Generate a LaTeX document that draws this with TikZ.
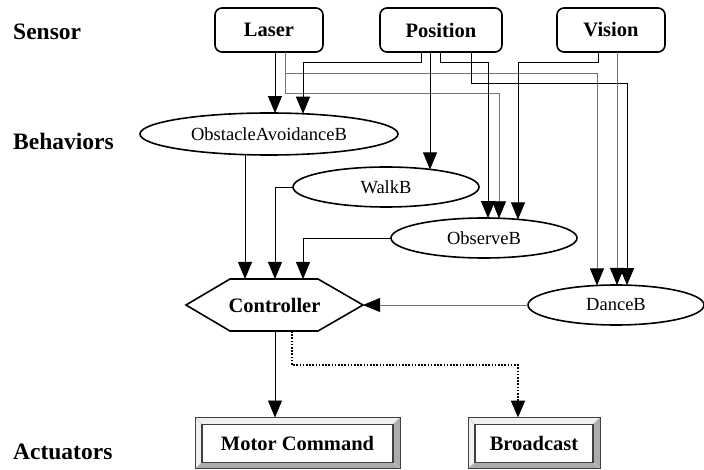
\documentclass[tikz,border=0pt]{standalone}
\usepackage{fontspec}
\setmainfont{Liberation Serif}
\usetikzlibrary{arrows.meta,shapes.geometric,calc}
\newcommand{\ppb}{path picture bounding box}
\tikzset{
  sensorbox/.style={draw, line width=1.6pt, rounded corners=7pt, minimum height=44pt, inner sep=0pt, outer sep=0pt, font=\fontsize{20.5}{22}\selectfont\bfseries},
  behav/.style={draw, ellipse, line width=1.6pt, inner sep=0pt, outer sep=0pt, minimum height=40pt, font=\fontsize{18.5}{20}\selectfont},
  sidelabel/.style={anchor=west, inner sep=0pt, font=\fontsize{23.5}{25}\selectfont\bfseries},
  ctrlnode/.style={minimum width=177pt, minimum height=52pt, inner sep=0pt, outer sep=0pt, font=\fontsize{20.5}{22}\selectfont\bfseries},
  wire/.style={line width=0.85pt, black},
  wireg/.style={line width=0.85pt, black!55},
  arr/.style={-{Triangle[length=17pt,width=14pt,color=black,fill=black]}},
  dotwire/.style={line width=2.2pt, dash pattern=on 1.6pt off 1.6pt, black},
  actbox/.style={draw=black!75, line width=0.8pt, minimum height=51pt, inner sep=0pt, outer sep=0pt,
    font=\fontsize{20.5}{22}\selectfont\bfseries,
    path picture={
      \fill[gray!12] (\ppb.north west) rectangle (\ppb.south east);
      \fill[gray!65] (\ppb.north east) -- (\ppb.south east) -- (\ppb.south west)
        -- ([shift={(7,-6)}]\ppb.south west) -- ([shift={(-7,-6)}]\ppb.south east)
        -- ([shift={(-7,7)}]\ppb.north east) -- cycle;
      \draw[gray!45, line width=0.5pt] (\ppb.north west) -- ([shift={(7,7)}]\ppb.north west)
        (\ppb.north east) -- ([shift={(-7,7)}]\ppb.north east)
        (\ppb.south west) -- ([shift={(7,-6)}]\ppb.south west)
        (\ppb.south east) -- ([shift={(-7,-6)}]\ppb.south east);
      \draw[fill=white, line width=1.4pt] ([shift={(7,7)}]\ppb.north west) rectangle ([shift={(-7,-6)}]\ppb.south east);
    }},
}
\begin{document}
\begin{tikzpicture}[x=1pt,y=-1pt]
\useasboundingbox[fill=white] (0,0) rectangle (704,470);

% side labels
\node[sidelabel] (lsensor) at (13,32) {Sensor};
\node[sidelabel] (lbehav) at (13,141) {Behaviors};
\node[sidelabel] (lact) at (13,452) {Actuators};

% sensors
\node[sensorbox, minimum width=108pt] (laser) at (269,30) {Laser};
\node[sensorbox, minimum width=122pt] (position) at (441,30) {Position};
\node[sensorbox, minimum width=108pt] (vision) at (611,30) {Vision};

% behaviors
\node[behav, minimum width=258pt, minimum height=42pt] (oa) at (269,134) {ObstacleAvoidanceB};
\node[behav, minimum width=186pt] (walkb) at (386,187) {WalkB};
\node[behav, minimum width=186pt] (observeb) at (484,238) {ObserveB};
\node[behav, minimum width=176pt] (danceb) at (616,305) {DanceB};

% controller
\node[ctrlnode] (ctrl) at (274.5,305) {Controller};
\draw[line width=1.6pt, line join=miter] (ctrl.west) -- ([xshift=44pt]ctrl.north west) -- ([xshift=-45pt]ctrl.north east)
  -- (ctrl.east) -- ([xshift=-45pt]ctrl.south east) -- ([xshift=44pt]ctrl.south west) -- cycle;

% actuators
\node[actbox, minimum width=205pt] (mc) at (297.5,443) {Motor Command};
\node[actbox, minimum width=132pt] (bc) at (534,443) {Broadcast};

% sensor -> behavior connectors
\draw[wire,arr] (laser.south -| 275,0) -- ($(oa.center)+(6,-20.98)$);
\draw[wireg,arr] (laser.south -| 285,0) -- (285,73) -- (597,73) -- ($(danceb.center)+(-19,-19.53)$);
\draw[wireg,arr] (laser.south -| 285,0) -- (285,93) -- (499,93) -- ($(observeb.center)+(15,-19.74)$);
\draw[wire,arr] (position.south -| 421,0) -- (421,62) -- (303,62) -- ($(oa.center)+(34,-20.26)$);
\draw[wire,arr] (position.south -| 430,0) -- ($(walkb.center)+(44,-17.62)$);
\draw[wire,arr] (position.south -| 440,0) -- (440,62) -- (488,62) -- ($(observeb.center)+(4,-19.98)$);
\draw[wire,arr] (position.south -| 471,0) -- (471,83) -- (627,83) -- ($(danceb.center)+(11,-19.84)$);
\draw[wire,arr] (vision.south -| 598,0) -- (598,62) -- (518,62) -- ($(observeb.center)+(34,-18.61)$);
\draw[wireg,arr] (vision.south -| 617,0) -- ($(danceb.center)+(1,-20)$);

% behavior -> controller
\draw[wire,arr] ($(oa.center)+(-24,20.63)$) -- (ctrl.north -| 245,0);
\draw[wire,arr] (walkb.west) -| (ctrl.north -| 275,0);
\draw[wire,arr] (observeb.west) -| (ctrl.north -| 303,0);
\draw[wireg,arr] (danceb.west) -- (ctrl.east);

% controller -> actuators
\draw[wire,arr] (ctrl.south -| 275,0) -- (mc.north -| 275,0);
\draw[dotwire,arr] (ctrl.south -| 292,0) -- (292,365) -| (bc.north -| 518,0);
\end{tikzpicture}
\end{document}
